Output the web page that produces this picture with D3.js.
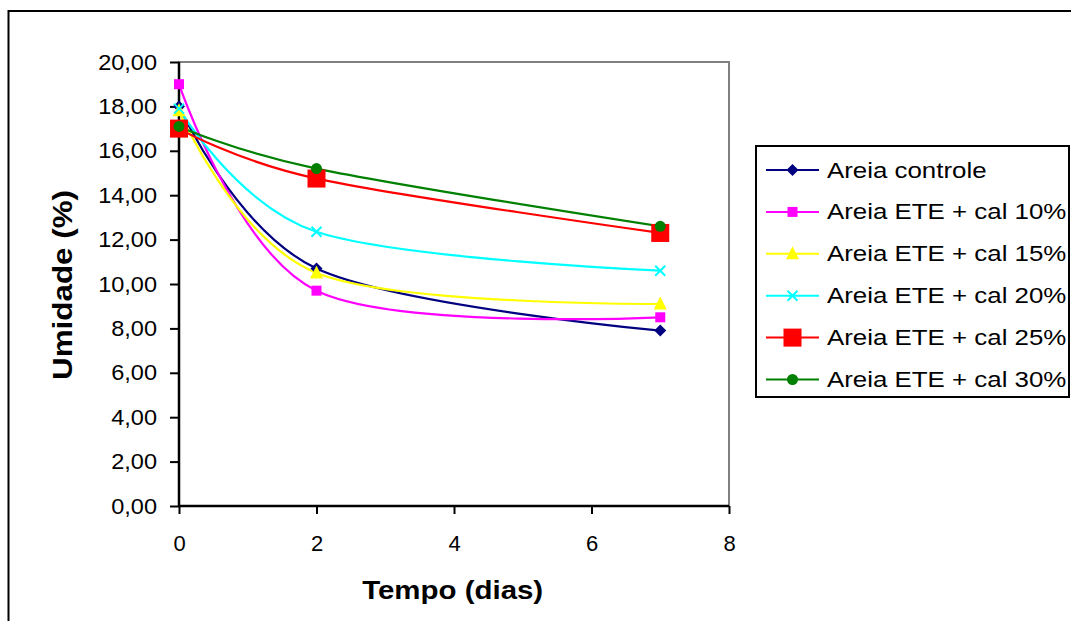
<!DOCTYPE html>
<html>
<head>
<meta charset="utf-8">
<script src="https://cdn.jsdelivr.net/npm/d3@7"></script>
<style>
  html, body { margin: 0; padding: 0; background: #fff; }
  svg { display: block; }
  text { font-family: "Liberation Sans", Arial, sans-serif; fill: #000; }
</style>
</head>
<body>
<svg id="chart" width="1071" height="621"></svg>
<script>
// ---- data ----
const days = [0, 2, 7];
const seriesNames = [
  "Areia controle",
  "Areia ETE + cal 10%",
  "Areia ETE + cal 15%",
  "Areia ETE + cal 20%",
  "Areia ETE + cal 25%",
  "Areia ETE + cal 30%"
];
const controle = [18.0, 10.7, 7.9];
const cal10 = [19.0, 9.7, 8.5];
const cal15 = [17.8, 10.5, 9.1];
const cal20 = [17.9, 12.35, 10.6];
const cal25 = [17.0, 14.75, 12.3];
const cal30 = [17.1, 15.2, 12.6];
const xTicks = [0, 2, 4, 6, 8];
const yTicks = [0, 2, 4, 6, 8, 10, 12, 14, 16, 18, 20];
const yTickLabels = ["0,00","2,00","4,00","6,00","8,00","10,00","12,00","14,00","16,00","18,00","20,00"];
const xTitle = "Tempo (dias)";
const yTitle = "Umidade (%)";

// ---- styles ----
const styles = [
  { color: "#000080", marker: "diamond", size: 12 },
  { color: "#FF00FF", marker: "square", size: 10 },
  { color: "#FFFF00", marker: "triangle", size: 13 },
  { color: "#00FFFF", marker: "cross", size: 10 },
  { color: "#FF0000", marker: "square", size: 18 },
  { color: "#008000", marker: "circle", size: 11 }
];
const allValues = [controle, cal10, cal15, cal20, cal25, cal30];
const series = seriesNames.map((name, i) => ({
  name, style: styles[i],
  points: days.map((d, j) => ({ x: d, y: allValues[i][j] }))
}));

const svg = d3.select("#chart");
const L = 179, R = 729, T = 62, B = 506;
const x = d3.scaleLinear().domain([0, 8]).range([L, R]);
const y = d3.scaleLinear().domain([0, 20]).range([B, T]);

// outer border
svg.append("rect").attr("x", 8.5).attr("y", 11).attr("width", 1100).attr("height", 700)
  .attr("fill", "none").attr("stroke", "#000").attr("stroke-width", 2);

// plot area border (gray)
svg.append("rect").attr("x", L).attr("y", T).attr("width", R - L).attr("height", B - T)
  .attr("fill", "none").attr("stroke", "#808080").attr("stroke-width", 2);

// Y axis
const yAxis = svg.append("g").attr("transform", `translate(${L},0)`)
  .call(d3.axisLeft(y).tickValues(yTicks).tickSize(9).tickFormat((d, i) => yTickLabels[i]));
yAxis.select(".domain").attr("stroke", "#000").attr("stroke-width", 2.5).attr("d", `M0,${T}V${B}`);
yAxis.selectAll(".tick line").attr("stroke", "#000").attr("stroke-width", 2);
yAxis.selectAll(".tick text")
  .attr("x", -22 / 1.07).attr("transform", "scale(1.07,1)")
  .style("font-size", "22px").attr("fill", "#000");

// X axis
const xAxis = svg.append("g").attr("transform", `translate(0,${B})`)
  .call(d3.axisBottom(x).tickValues(xTicks).tickSize(8).tickFormat(d3.format("d")));
xAxis.select(".domain").attr("stroke", "#000").attr("stroke-width", 2.5).attr("d", `M${L},0H${R}`);
xAxis.selectAll(".tick line").attr("stroke", "#000").attr("stroke-width", 2);
xAxis.selectAll(".tick text").attr("y", 29).style("font-size", "22px").attr("fill", "#000");

// axis titles
svg.append("text").attr("x", 452.7).attr("y", 599).attr("text-anchor", "middle")
  .attr("textLength", 181).attr("lengthAdjust", "spacingAndGlyphs")
  .style("font-size", "25px").style("font-weight", "bold").text(xTitle);
svg.append("text").attr("transform", "translate(72,285) rotate(-90)").attr("text-anchor", "middle")
  .attr("textLength", 190).attr("lengthAdjust", "spacingAndGlyphs")
  .style("font-size", "28px").style("font-weight", "bold").text(yTitle);

// marker drawing helper
function drawMarker(g, st, cx, cy) {
  const s = st.size, h = s / 2;
  if (st.marker === "diamond") {
    g.append("path").attr("d", `M${cx},${cy - h}L${cx + h},${cy}L${cx},${cy + h}L${cx - h},${cy}Z`).attr("fill", st.color);
  } else if (st.marker === "square") {
    g.append("rect").attr("x", cx - h).attr("y", cy - h).attr("width", s).attr("height", s).attr("fill", st.color);
  } else if (st.marker === "triangle") {
    g.append("path").attr("d", `M${cx},${cy - h - 1}L${cx + h},${cy + h - 1}L${cx - h},${cy + h - 1}Z`).attr("fill", st.color);
  } else if (st.marker === "cross") {
    g.append("path").attr("d", `M${cx - h},${cy - h}L${cx + h},${cy + h}M${cx - h},${cy + h}L${cx + h},${cy - h}`)
      .attr("stroke", st.color).attr("stroke-width", 2).attr("fill", "none");
  } else if (st.marker === "circle") {
    g.append("circle").attr("cx", cx).attr("cy", cy).attr("r", h).attr("fill", st.color);
  }
}

// lines
const line = d3.line().x(d => x(d.x)).y(d => y(d.y)).curve(d3.curveCardinal.tension(0));
const plot = svg.append("g");
series.forEach(s => {
  plot.append("path").datum(s.points).attr("d", line)
    .attr("fill", "none").attr("stroke", s.style.color).attr("stroke-width", 2.2);
});
series.forEach(s => {
  const g = plot.append("g");
  s.points.forEach(p => drawMarker(g, s.style, x(p.x), y(p.y)));
});

// legend
svg.append("rect").attr("x", 756).attr("y", 146).attr("width", 313).attr("height", 251)
  .attr("fill", "#fff").attr("stroke", "#000").attr("stroke-width", 2);
series.forEach((s, i) => {
  const cy = 170 + i * 41.9;
  const g = svg.append("g");
  g.append("line").attr("x1", 766).attr("x2", 819).attr("y1", cy).attr("y2", cy)
    .attr("stroke", s.style.color).attr("stroke-width", 2);
  drawMarker(g, s.style, 792.5, cy);
  g.append("text").attr("transform", `translate(827,${cy + 7.5}) scale(1.15,1)`)
    .style("font-size", "22.5px").text(s.name);
});
</script>
</body>
</html>
